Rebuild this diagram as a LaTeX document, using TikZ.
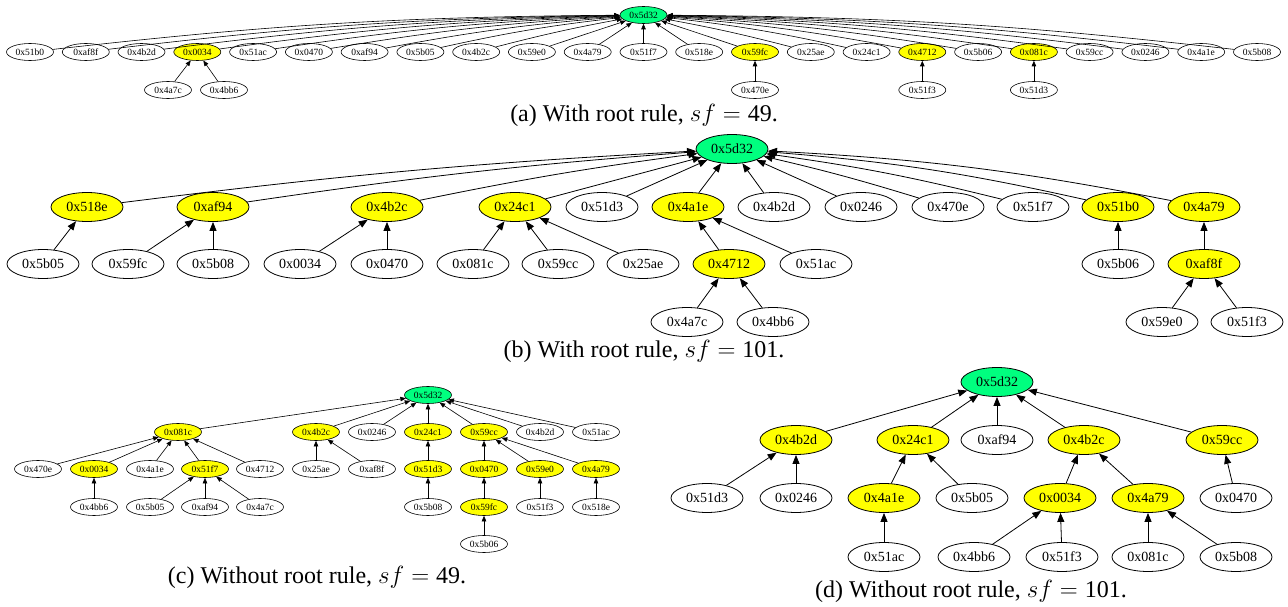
\documentclass[tikz,border=0pt]{standalone}
\usepackage{fontspec}
\setmainfont{Liberation Serif}
\usetikzlibrary{shapes.geometric,arrows.meta}
\definecolor{hit}{HTML}{FFFF00}
\definecolor{rootc}{HTML}{00FF7F}

\begin{document}
\begin{tikzpicture}[x=1pt, y=1pt,
        sml/.style={shape=ellipse, draw, line width=0.6pt, inner sep=0pt, minimum width=47pt, minimum height=17pt, font=\fontsize{9.5}{10}\selectfont},
        big/.style={shape=ellipse, draw, line width=0.8pt, inner sep=0pt, minimum width=72pt, minimum height=29pt, font=\fontsize{14}{16}\selectfont},
        hot/.style={fill=hit},
        rt/.style={fill=rootc},
        sarr/.style={-{Triangle[length=5.5pt, width=4.5pt]}, line width=0.6pt},
        barr/.style={-{Triangle[length=9pt, width=7pt]}, line width=0.8pt},
        subcap/.style={anchor=base, font=\fontsize{24}{28}\selectfont}]
            \useasboundingbox (0, 0) rectangle (1288, 606);

            % (a) with root rule, sf = 49
            \node[sml, rt] (A0) at (643.5, 591) {0x5d32};
            \node[sml] (A1) at (30, 554) {0x51b0};
            \node[sml] (A2) at (85.8, 554) {0xaf8f};
            \node[sml] (A3) at (141.5, 554) {0x4b2d};
            \node[sml, hot] (A4) at (197.3, 554) {0x0034};
            \node[sml] (A5) at (253.1, 554) {0x51ac};
            \node[sml] (A6) at (308.9, 554) {0x0470};
            \node[sml] (A7) at (364.6, 554) {0xaf94};
            \node[sml] (A8) at (420.4, 554) {0x5b05};
            \node[sml] (A9) at (476.2, 554) {0x4b2c};
            \node[sml] (A10) at (531.9, 554) {0x59e0};
            \node[sml] (A11) at (587.7, 554) {0x4a79};
            \node[sml] (A12) at (643.5, 554) {0x51f7};
            \node[sml] (A13) at (699.2, 554) {0x518e};
            \node[sml, hot] (A14) at (755, 554) {0x59fc};
            \node[sml] (A15) at (810.8, 554) {0x25ae};
            \node[sml] (A16) at (866.6, 554) {0x24c1};
            \node[sml, hot] (A17) at (922.3, 554) {0x4712};
            \node[sml] (A18) at (978.1, 554) {0x5b06};
            \node[sml, hot] (A19) at (1033.9, 554) {0x081c};
            \node[sml] (A20) at (1089.6, 554) {0x59cc};
            \node[sml] (A21) at (1145.4, 554) {0x0246};
            \node[sml] (A22) at (1201.2, 554) {0x4a1e};
            \node[sml] (A23) at (1257, 554) {0x5b08};
            \node[sml] (A24) at (168, 516) {0x4a7c};
            \node[sml] (A25) at (224, 516) {0x4bb6};
            \node[sml] (A26) at (755, 516) {0x470e};
            \node[sml] (A27) at (922.3, 516) {0x51f3};
            \node[sml] (A28) at (1033.9, 516) {0x51d3};

            \draw[sarr, bend left=3] (A1) to (A0);
            \draw[sarr, bend left=3] (A2) to (A0);
            \draw[sarr, bend left=3] (A3) to (A0);
            \draw[sarr, bend left=3] (A4) to (A0);
            \draw[sarr, bend left=3] (A5) to (A0);
            \draw[sarr, bend left=3] (A6) to (A0);
            \draw[sarr, bend left=3] (A7) to (A0);
            \draw[sarr, bend left=3] (A8) to (A0);
            \draw[sarr, bend left=2] (A9) to (A0);
            \draw[sarr] (A10) -- (A0);
            \draw[sarr] (A11) -- (A0);
            \draw[sarr] (A12) -- (A0);
            \draw[sarr] (A13) -- (A0);
            \draw[sarr] (A14) -- (A0);
            \draw[sarr, bend right=2] (A15) to (A0);
            \draw[sarr, bend right=3] (A16) to (A0);
            \draw[sarr, bend right=3] (A17) to (A0);
            \draw[sarr, bend right=3] (A18) to (A0);
            \draw[sarr, bend right=3] (A19) to (A0);
            \draw[sarr, bend right=3] (A20) to (A0);
            \draw[sarr, bend right=3] (A21) to (A0);
            \draw[sarr, bend right=3] (A22) to (A0);
            \draw[sarr, bend right=3] (A23) to (A0);
            \draw[sarr] (A24) -- (A4);
            \draw[sarr] (A25) -- (A4);
            \draw[sarr] (A26) -- (A14);
            \draw[sarr] (A27) -- (A17);
            \draw[sarr] (A28) -- (A19);

            \node[subcap] (capA) at (644, 484) {(a) With root rule, $sf = \mbox{49}$.};

            % (b) with root rule, sf = 101
            \node[big, rt] (B0) at (732, 457) {0x5d32};
            \node[big, hot] (B1) at (87, 399) {0x518e};
            \node[big, hot] (B2) at (213, 399) {0xaf94};
            \node[big, hot] (B3) at (387, 399) {0x4b2c};
            \node[big, hot] (B4) at (515, 399) {0x24c1};
            \node[big] (B5) at (602, 399) {0x51d3};
            \node[big, hot] (B6) at (688, 399) {0x4a1e};
            \node[big] (B7) at (774, 399) {0x4b2d};
            \node[big] (B8) at (861, 399) {0x0246};
            \node[big] (B9) at (948, 399) {0x470e};
            \node[big] (B10) at (1033, 399) {0x51f7};
            \node[big, hot] (B11) at (1118, 399) {0x51b0};
            \node[big, hot] (B12) at (1204, 399) {0x4a79};
            \node[big] (B13) at (43, 342) {0x5b05};
            \node[big] (B14) at (128, 342) {0x59fc};
            \node[big] (B15) at (213, 342) {0x5b08};
            \node[big] (B16) at (300, 342) {0x0034};
            \node[big] (B17) at (387, 342) {0x0470};
            \node[big] (B18) at (473, 342) {0x081c};
            \node[big] (B19) at (558, 342) {0x59cc};
            \node[big] (B20) at (643, 342) {0x25ae};
            \node[big, hot] (B21) at (729, 342) {0x4712};
            \node[big] (B22) at (816, 342) {0x51ac};
            \node[big] (B23) at (1118, 342) {0x5b06};
            \node[big, hot] (B24) at (1204, 342) {0xaf8f};
            \node[big] (B25) at (687, 284) {0x4a7c};
            \node[big] (B26) at (773, 284) {0x4bb6};
            \node[big] (B27) at (1162, 284) {0x59e0};
            \node[big] (B28) at (1247, 284) {0x51f3};

            \draw[barr, bend left=2] (B1) to (B0);
            \draw[barr, bend left=2] (B2) to (B0);
            \draw[barr, bend left=2] (B3) to (B0);
            \draw[barr] (B4) -- (B0);
            \draw[barr] (B5) -- (B0);
            \draw[barr] (B6) -- (B0);
            \draw[barr] (B7) -- (B0);
            \draw[barr] (B8) -- (B0);
            \draw[barr, bend right=2] (B9) to (B0);
            \draw[barr, bend right=3] (B10) to (B0);
            \draw[barr, bend right=4] (B11) to (B0);
            \draw[barr, bend right=4] (B12) to (B0);
            \draw[barr] (B13) -- (B1);
            \draw[barr] (B14) -- (B2);
            \draw[barr] (B15) -- (B2);
            \draw[barr] (B16) -- (B3);
            \draw[barr] (B17) -- (B3);
            \draw[barr] (B18) -- (B4);
            \draw[barr] (B19) -- (B4);
            \draw[barr] (B20) -- (B4);
            \draw[barr] (B21) -- (B6);
            \draw[barr] (B22) -- (B6);
            \draw[barr] (B23) -- (B11);
            \draw[barr] (B24) -- (B12);
            \draw[barr] (B25) -- (B21);
            \draw[barr] (B26) -- (B21);
            \draw[barr] (B27) -- (B24);
            \draw[barr] (B28) -- (B24);

            \node[subcap] (capB) at (644, 248) {(b) With root rule, $sf = \mbox{101}$.};

            % (c) without root rule, sf = 49
            \node[sml, rt] (C0) at (428, 211) {0x5d32};
            \node[sml, hot] (C1) at (178, 174) {0x081c};
            \node[sml, hot] (C2) at (316, 174) {0x4b2c};
            \node[sml] (C3) at (372, 174) {0x0246};
            \node[sml, hot] (C4) at (428, 174) {0x24c1};
            \node[sml, hot] (C5) at (484, 174) {0x59cc};
            \node[sml] (C6) at (540, 174) {0x4b2d};
            \node[sml] (C7) at (596, 174) {0x51ac};
            \node[sml] (C8) at (38, 137) {0x470e};
            \node[sml, hot] (C9) at (94, 137) {0x0034};
            \node[sml] (C10) at (150, 137) {0x4a1e};
            \node[sml, hot] (C11) at (205, 137) {0x51f7};
            \node[sml] (C12) at (260, 137) {0x4712};
            \node[sml] (C13) at (316, 137) {0x25ae};
            \node[sml] (C14) at (372, 137) {0xaf8f};
            \node[sml, hot] (C15) at (428, 137) {0x51d3};
            \node[sml, hot] (C16) at (484, 137) {0x0470};
            \node[sml, hot] (C17) at (540, 137) {0x59e0};
            \node[sml, hot] (C18) at (596, 137) {0x4a79};
            \node[sml] (C19) at (94, 99) {0x4bb6};
            \node[sml] (C20) at (150, 99) {0x5b05};
            \node[sml] (C21) at (205, 99) {0xaf94};
            \node[sml] (C22) at (260, 99) {0x4a7c};
            \node[sml] (C23) at (428, 99) {0x5b08};
            \node[sml, hot] (C24) at (484, 99) {0x59fc};
            \node[sml] (C25) at (540, 99) {0x51f3};
            \node[sml] (C26) at (596, 99) {0x518e};
            \node[sml] (C27) at (484, 62) {0x5b06};

            \draw[sarr] (C1) -- (C0);
            \draw[sarr] (C2) -- (C0);
            \draw[sarr] (C3) -- (C0);
            \draw[sarr] (C4) -- (C0);
            \draw[sarr] (C5) -- (C0);
            \draw[sarr] (C6) -- (C0);
            \draw[sarr] (C7) -- (C0);
            \draw[sarr] (C8) -- (C1);
            \draw[sarr] (C9) -- (C1);
            \draw[sarr] (C10) -- (C1);
            \draw[sarr] (C11) -- (C1);
            \draw[sarr] (C12) -- (C1);
            \draw[sarr] (C13) -- (C2);
            \draw[sarr] (C14) -- (C2);
            \draw[sarr] (C15) -- (C4);
            \draw[sarr] (C16) -- (C5);
            \draw[sarr] (C17) -- (C5);
            \draw[sarr] (C18) -- (C5);
            \draw[sarr] (C19) -- (C9);
            \draw[sarr] (C20) -- (C11);
            \draw[sarr] (C21) -- (C11);
            \draw[sarr] (C22) -- (C11);
            \draw[sarr] (C23) -- (C15);
            \draw[sarr] (C24) -- (C16);
            \draw[sarr] (C25) -- (C17);
            \draw[sarr] (C26) -- (C18);
            \draw[sarr] (C27) -- (C24);

            \node[subcap] (capC) at (317, 23) {(c) Without root rule, $sf = \mbox{49}$.};

            % (d) without root rule, sf = 101
            \node[big, rt] (D0) at (997, 224) {0x5d32};
            \node[big, hot] (D1) at (796, 166) {0x4b2d};
            \node[big, hot] (D2) at (913, 166) {0x24c1};
            \node[big] (D3) at (997, 166) {0xaf94};
            \node[big, hot] (D4) at (1084, 166) {0x4b2c};
            \node[big, hot] (D5) at (1222, 166) {0x59cc};
            \node[big] (D6) at (707, 108) {0x51d3};
            \node[big] (D7) at (796, 108) {0x0246};
            \node[big, hot] (D8) at (884, 108) {0x4a1e};
            \node[big] (D9) at (972, 108) {0x5b05};
            \node[big, hot] (D10) at (1060, 108) {0x0034};
            \node[big, hot] (D11) at (1148, 108) {0x4a79};
            \node[big] (D12) at (1236, 108) {0x0470};
            \node[big] (D13) at (884, 49) {0x51ac};
            \node[big] (D14) at (974, 49) {0x4bb6};
            \node[big] (D15) at (1062, 49) {0x51f3};
            \node[big] (D16) at (1148, 49) {0x081c};
            \node[big] (D17) at (1236, 49) {0x5b08};

            \draw[barr] (D1) -- (D0);
            \draw[barr] (D2) -- (D0);
            \draw[barr] (D3) -- (D0);
            \draw[barr] (D4) -- (D0);
            \draw[barr] (D5) -- (D0);
            \draw[barr] (D6) -- (D1);
            \draw[barr] (D7) -- (D1);
            \draw[barr] (D8) -- (D2);
            \draw[barr] (D9) -- (D2);
            \draw[barr] (D10) -- (D4);
            \draw[barr] (D11) -- (D4);
            \draw[barr] (D12) -- (D5);
            \draw[barr] (D13) -- (D8);
            \draw[barr] (D14) -- (D10);
            \draw[barr] (D15) -- (D10);
            \draw[barr] (D16) -- (D11);
            \draw[barr] (D17) -- (D11);

            \node[subcap] (capD) at (971, 9) {(d) Without root rule, $sf = \mbox{101}$.};

        \end{tikzpicture}
\end{document}
